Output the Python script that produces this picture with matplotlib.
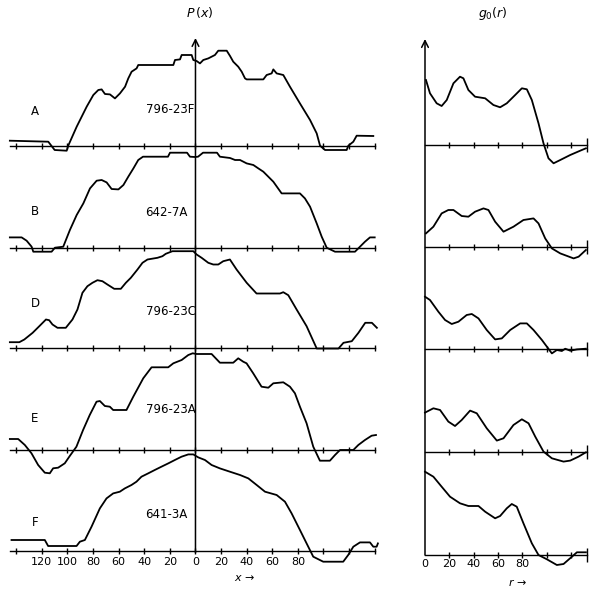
import matplotlib
matplotlib.use("Agg")
import matplotlib.pyplot as plt

# P(x) profiles, heights in arbitrary units above each baseline
pA_x = [-145, -115, -110, -100.6, -99.4, -92.8, -85, -79.8, -75.9, -73.3, -70.7, -66.8, -62.9, -59, -55,
        -52.5, -49.9, -46, -44.7, -17.3, -16, -12.1, -10.8, -3, -1.7, 0.9, 3.5, 6.1, 10, 15.2, 17.8, 24.4,
        27, 29.5, 33.4, 36.1, 38.7, 40, 53, 55.6, 59.5, 60.8, 63.4, 68.6, 73.8, 81.6, 89.5, 94.7, 97.3,
        101.2, 118.1, 119.4, 123.3, 125.9, 138.9]
pA_y = [5, 4, -4.3, -5, 0, 19, 39, 50.7, 55.7, 56.3, 51.7, 51.3, 47.3, 52.3, 59,
        67.3, 74, 77.3, 80.7, 80.7, 85.7, 86.3, 90.7, 90.7, 85.7, 84.7, 82.3, 85.7, 87.3, 90.7, 95, 95,
        89.7, 84, 79, 74, 67.3, 66.3, 66.3, 70.7, 72.3, 76.3, 72.3, 70.7, 59, 42.3, 25.7, 12.3, 0,
        -4.3, -4.3, 0, 4, 10, 9.7]

pB_x = [-145, -135.8, -131.9, -128, -126.7, -112.4, -109.8, -103.3, -98.1, -92.8, -87.6, -82.4, -77.2,
        -73.3, -69.4, -65.5, -60.2, -56.3, -52.5, -48.5, -44.7, -41, -21.5, -19.9, -6.6, -4.3, -0.4, 2,
        5.9, 16.8, 19.1, 27, 30.9, 34.8, 40, 45.2, 49.1, 53, 56.9, 60.8, 67.3, 81.6, 85.5, 89.5, 94.7,
        98.6, 102.5, 109, 124.6, 128.5, 132.4, 136.3, 140]
pB_y = [10.3, 10.3, 7, 1, -4, -4, 0, 1, 17.7, 32.7, 44.3, 59.3, 67,
        67.7, 65.3, 58.7, 58.3, 62.7, 71, 79.3, 87.7, 91, 91, 95, 95, 91, 90.7, 91,
        95, 95, 91, 89.7, 87.7, 87.7, 84.3, 82.7, 79.3, 76, 71, 66, 54.3, 54.3, 49.3, 41, 24.3,
        11, 0, -4, -4, 1, 6, 10.3, 10.3]

pD_x = [-145, -137.6, -133.7, -127.2, -122, -116.8, -114.3, -111.7, -107.8, -101.3, -96.1, -92.2, -88.3,
        -84.4, -80.5, -76.6, -72.7, -68.8, -63.5, -58.3, -54.4, -50.5, -45.3, -41.4, -37.5, -29.7, -25.8,
        -23.2, -18, -1.7, 0.9, 4.8, 10, 13.9, 17.8, 21.7, 26.9, 32.1, 40, 47.7, 66, 68.6, 72.5, 79,
        86.8, 94.7, 111.7, 115.6, 122.1, 127.3, 132.6, 137.8, 141.7]
pD_y = [6.3, 6.3, 9, 15.7, 22.3, 29, 28.3, 24, 20.7, 20.7, 29, 39, 55.7,
        62.3, 65.7, 68.3, 67.3, 64, 59.7, 59.7, 65.7, 70.7, 79, 85.7, 89, 90.7, 92.3,
        94.7, 97.3, 97.3, 94, 90.7, 85.7, 84, 84, 87.3, 89, 79, 65.7, 55, 55, 56.3, 53.3, 39,
        22.3, 0, 0, 5.7, 7.3, 15.7, 25.7, 25.7, 20.7]

pE_x = [-145, -138.5, -133.3, -128.1, -122.9, -117.7, -113.8, -111.2, -107.3, -102.1, -98.2, -93, -87.8,
        -82.6, -77.3, -74.7, -70.8, -66.9, -64.3, -53.9, -48.6, -40.8, -34.3, -21.3, -17.3, -10.8, -5.6,
        -2.2, 0.9, 12.6, 19.1, 29.5, 33.4, 37.3, 39.9, 45.1, 51.6, 56.9, 60.8, 68.6, 73.8, 77.7, 81.6,
        86.8, 92, 97.2, 105, 109, 112.9, 123.3, 127.2, 132.4, 137.6, 141]
pE_y = [11, 11, 5, -3.3, -15, -22.7, -23.3, -18.3, -17.7, -13.3, -6, 3.3, 20,
        35, 48.3, 49, 44, 43.3, 40, 40, 53.3, 71.7, 82.7, 82.7, 86.7, 90, 95,
        96.7, 96, 96, 87.3, 87.3, 91.7, 88.3, 86.7, 76.7, 63.3, 62.3, 66.7, 67.7, 63.3, 56.7, 43.3,
        26.7, 3.3, -10.7, -10.7, -5, 0, 0, 5, 10, 14.3, 15]

pF_x = [-143.7, -117.7, -115.1, -92.9, -90.3, -86.4, -81.2, -74.7, -69.5, -64.3, -59.1, -55.2, -50,
        -46.1, -42.2, -37, -31.8, -26.6, -21.3, -16.1, -10.9, -5.6, -1.7, 2.2, 7.4, 12.6, 19.1, 26.9,
        34.8, 41.3, 47.8, 54.3, 63.4, 69.9, 75.1, 81.6, 86.8, 92, 99.8, 115.4, 119.3, 123.3, 128.5,
        136.3, 138.9, 141.5, 142.5]
pF_y = [10.7, 10.7, 4.7, 4.7, 9, 10.7, 24, 42.3, 52.3, 57.3, 59, 62.3, 65.7,
        69, 74, 77.3, 80.7, 84, 87.3, 90.7, 94, 96.3, 96.3, 93.3, 90.7, 85.7, 82.3, 79,
        75.7, 72.3, 65.7, 59, 55.7, 49, 37.3, 20.7, 7.3, -6, -11, -11, -4.3, 4, 8.3,
        8.3, 4, 4, 7.3]

# g0(r) curves
gA_r = [0.8, 4.1, 9.6, 13.7, 17.9, 23.4, 28.8, 31.6, 35.7, 41.2, 49.5, 56.3, 61.8, 67.3, 74.2, 79.7,
        83.8, 87.9, 93.4, 97.5, 101.6, 105.8, 111.3, 119.5, 127.7, 132.4]
gA_y = [65, 51.7, 41.7, 39, 45, 61.7, 68.3, 66.7, 55, 48.3, 46.7, 40, 37.7, 41.7, 50, 56.7,
        55.7, 45, 21.7, 1.7, -13.3, -18.3, -15, -10, -5.7, -3.3]

gB_r = [0.8, 6.9, 13.7, 19.2, 23.4, 30.2, 35.7, 41.2, 48.1, 52.2, 57.7, 64.6, 72.8, 81, 89.3, 93.4,
        98.9, 104.4, 111.3, 122.3, 126.4, 132.4]
gB_y = [13.3, 20, 33.3, 36.7, 36.7, 30.7, 30, 35, 38.3, 36.7, 25, 15, 20, 26.7, 28.3, 23.3,
        8.3, -1.7, -6.7, -11.7, -10, -3.3]

gD_r = [0, 4.1, 11, 16.5, 22, 27.5, 34.3, 38.5, 44, 50.8, 57.7, 63.2, 70.1, 78.3, 83.8, 89.3, 96.2,
        100.3, 104.4, 108.5, 112.6, 115.4, 119.5, 125, 132.4]
gD_y = [52, 48.7, 37, 28.7, 24.7, 27, 33.7, 34.7, 30.3, 18.7, 9.3, 10.3, 18.7, 25.3, 25.3, 18.7, 8.7,
        2, -4.7, -1.3, -2.3, 0, -2, -0.7, 0]

gE_r = [0, 6.9, 12.4, 19.2, 24.7, 30.2, 37.1, 42.6, 50.8, 59.1, 64.6, 72.8, 79.7, 85.2, 90.7, 97.5,
        104.4, 114, 119.5, 126.4, 132.4]
gE_y = [39.7, 44, 42.3, 30.7, 26.3, 32.3, 41.7, 39, 24, 11.7, 14, 27.3, 33, 29, 15.7, 0.7,
        -6, -9.3, -8.3, -4.3, 0]

gF_r = [0, 6.9, 13.7, 20.6, 28.8, 35.7, 44, 49.5, 57.7, 61.8, 67.3, 71.4, 75.5, 81, 87.9, 93.4,
        100.3, 108.5, 114, 120.9, 125, 132.4]
gF_y = [83.3, 78.3, 68.3, 58.3, 51.7, 49, 49, 43.3, 36.7, 39, 46.7, 51, 48.3, 31.7, 11.7, 0,
        -4.3, -10, -9, -1.7, 2.7, 2.7]

row_letters = ["A", "B", "D", "E", "F"]
sample_ids = ["796-23F", "642-7A", "796-23C", "796-23A", "641-3A"]
x_ticks = [-140, -120, -100, -80, -60, -40, -20, 0, 20, 40, 60, 80, 100, 120, 140]
x_tick_labels = ["120", "100", "80", "60", "40", "20", "0", "20", "40", "60", "80"]
r_ticks = [20, 40, 60, 80, 100, 120]
r_tick_labels = ["0", "20", "40", "60", "80"]

p_curves = [(pA_x, pA_y), (pB_x, pB_y), (pD_x, pD_y), (pE_x, pE_y), (pF_x, pF_y)]
g_curves = [(gA_r, gA_y), (gB_r, gB_y), (gD_r, gD_y), (gE_r, gE_y), (gF_r, gF_y)]

# layout
left_base = [0, -102, -202.8, -304.3, -405]
right_base = [0.7, -101, -203, -306.6, -409.3]
letter_dy = [34, 36, 45, 31, 28]
id_dy = [35.7, 34.7, 37, 40, 35.7]
ylim = (145.7 - 592, 145.7)
lw = 1.3
font = "DejaVu Sans"

fig = plt.figure(figsize=(6.0, 5.92), dpi=100)
axp = fig.add_axes([0, 0, 390 / 600, 1])
axg = fig.add_axes([390 / 600, 0, 210 / 600, 1])
for ax in (axp, axg):
    ax.set_ylim(*ylim)
    ax.axis("off")
axp.set_xlim(-152.7, 151.95)
axg.set_xlim(-28.8, 144.0)

for i, (xs, ys) in enumerate(p_curves):
    b = left_base[i]
    axp.plot([-145, 140], [b, b], color="k", lw=1.0)
    axp.plot(x_ticks, [b] * len(x_ticks), ls="none", marker="|", ms=5, mew=1.0, color="k")
    axp.plot(xs, [y + b for y in ys], color="k", lw=lw)
    axp.text(-125.4, b + letter_dy[i], row_letters[i], ha="center", va="center",
             fontsize=8.5, family=font)
    axp.text(-39, b + id_dy[i], sample_ids[i], ha="left", va="center",
             fontsize=8.5, family=font)

for i, (rs, ys) in enumerate(g_curves):
    b = right_base[i]
    axg.plot([0, 133], [b, b], color="k", lw=1.0)
    axg.plot(r_ticks, [b] * len(r_ticks), ls="none", marker="|", ms=5, mew=1.0, color="k")
    axg.plot([133], [b], ls="none", marker="|", ms=10, mew=1.0, color="k")
    axg.plot(rs, [y + b for y in ys], color="k", lw=lw)

# vertical axes with arrows
axp.annotate("", xy=(0, 107.7), xytext=(0, left_base[-1] - 2),
             arrowprops=dict(arrowstyle="->", lw=1.1, color="k", mutation_scale=12,
                             shrinkA=0, shrinkB=0))
axg.annotate("", xy=(0, 106.7), xytext=(0, right_base[-1]),
             arrowprops=dict(arrowstyle="->", lw=1.1, color="k", mutation_scale=12,
                             shrinkA=0, shrinkB=0))

for xv, lab in zip(x_ticks[1:12], x_tick_labels):
    axp.text(xv, left_base[-1] - 11, lab, ha="center", va="center", fontsize=8, family=font)
for rv, lab in zip([0] + r_ticks[:4], r_tick_labels):
    axg.text(rv, right_base[-1] - 9, lab, ha="center", va="center", fontsize=8, family=font)

fig.text(200 / 600, 1 - 12 / 592, "$P\\,(x)$", ha="center", va="center", fontsize=9)
fig.text(493 / 600, 1 - 14 / 592, "$g_0(r)$", ha="center", va="center", fontsize=9)
fig.text(245 / 600, 1 - 578 / 592, "$x$ \u2192", ha="center", va="center", fontsize=8, family=font)
fig.text(517 / 600, 1 - 583 / 592, "$r$ \u2192", ha="center", va="center", fontsize=8, family=font)

fig.savefig("out.png", dpi=100, facecolor="white")
